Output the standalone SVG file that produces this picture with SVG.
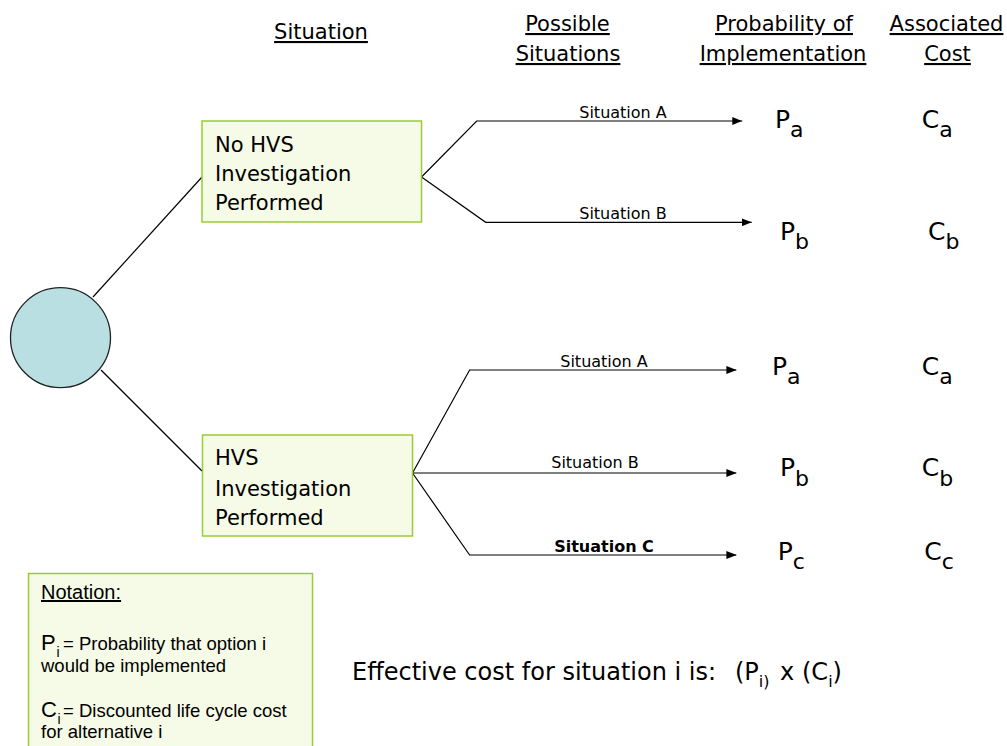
<svg xmlns="http://www.w3.org/2000/svg" width="1007" height="746" viewBox="0 0 1007 746">
<style>
.hdr{font-family:"DejaVu Sans",Verdana,sans-serif;font-size:21px;fill:#000;text-anchor:middle;text-decoration:underline}
.box{fill:#F6FBE7;stroke:#99CC33;stroke-width:1.5}
.bt{font-family:"DejaVu Sans",Verdana,sans-serif;font-size:21px;fill:#000}
.lbl{font-family:"DejaVu Sans",Verdana,sans-serif;font-size:16px;fill:#000;text-anchor:middle}
.lblb{font-family:"DejaVu Sans",Verdana,sans-serif;font-size:16px;font-weight:bold;fill:#000;text-anchor:middle}
.pc{font-family:"DejaVu Sans",Verdana,sans-serif;font-size:25px;fill:#000}
.sub{font-size:22px}
.ln{fill:none;stroke:#000;stroke-width:1.2}
.arr{fill:none;stroke:#000;stroke-width:1.2;marker-end:url(#ah)}
.nt{font-family:"Liberation Sans",Arial,sans-serif;font-size:18.5px;fill:#000}
.nth{font-family:"Liberation Sans",Arial,sans-serif;font-size:20px;fill:#000;text-decoration:underline}
.big{font-size:22px}
.nts{font-size:14px}
.eff{font-family:"DejaVu Sans",Verdana,sans-serif;font-size:24px;fill:#000}
.effs{font-size:16px}
</style>
<defs>
<marker id="ah" viewBox="0 0 10 8" refX="10" refY="4" markerWidth="10" markerHeight="8" markerUnits="userSpaceOnUse" orient="auto">
<path d="M0,0 L10,4 L0,8 Z" fill="#000"/>
</marker>
</defs>
<rect width="1007" height="746" fill="#fff"/>

<g id="headers">
<text class="hdr" x="321" y="39">Situation</text>
<text class="hdr" x="567.5" y="31">Possible</text>
<text class="hdr" x="568" y="61">Situations</text>
<text class="hdr" x="784" y="31">Probability of</text>
<text class="hdr" x="783" y="61">Implementation</text>
<text class="hdr" x="946.5" y="31">Associated</text>
<text class="hdr" x="947.5" y="61">Cost</text>
</g>

<g id="connectors">
<line class="ln" x1="93" y1="297" x2="202" y2="177"/>
<line class="ln" x1="101" y1="370" x2="202" y2="471"/>
<polyline class="arr" points="421.5,177 476.7,121 742.3,121"/>
<polyline class="arr" points="421.5,177 485.7,222.3 751.7,222.3"/>
<polyline class="arr" points="412.5,473 469.6,370 736.4,370"/>
<polyline class="arr" points="412.5,473 736.4,473"/>
<polyline class="arr" points="412.5,473 469.6,555 736.4,555"/>
<text class="lbl" x="623" y="118">Situation A</text>
<text class="lbl" x="623" y="219">Situation B</text>
<text class="lbl" x="604" y="366.5">Situation A</text>
<text class="lbl" x="595" y="467.5">Situation B</text>
<text class="lblb" x="604" y="551.5">Situation C</text>
</g>

<g id="root">
<circle cx="60.5" cy="337.7" r="50" fill="#B9DFE2" stroke="#222" stroke-width="1.3"/>
</g>

<g id="no-hvs">
<rect class="box" x="202" y="121" width="219.5" height="101"/>
<text class="bt" x="215" y="151.7">No HVS</text>
<text class="bt" x="215" y="180.7">Investigation</text>
<text class="bt" x="215" y="210">Performed</text>
</g>

<g id="hvs">
<rect class="box" x="202.5" y="435" width="210" height="101"/>
<text class="bt" x="215" y="465">HVS</text>
<text class="bt" x="215" y="495.7">Investigation</text>
<text class="bt" x="215" y="525">Performed</text>
</g>

<g id="outcomes">
<text class="pc" x="775" y="128">P<tspan class="sub" dy="9">a</tspan></text>
<text class="pc" x="921.7" y="128">C<tspan class="sub" dy="9">a</tspan></text>
<text class="pc" x="780" y="240">P<tspan class="sub" dy="8.5">b</tspan></text>
<text class="pc" x="928" y="240">C<tspan class="sub" dy="8.5">b</tspan></text>
<text class="pc" x="772" y="375">P<tspan class="sub" dy="9">a</tspan></text>
<text class="pc" x="921.7" y="375">C<tspan class="sub" dy="9">a</tspan></text>
<text class="pc" x="780" y="476">P<tspan class="sub" dy="9.5">b</tspan></text>
<text class="pc" x="921.7" y="476">C<tspan class="sub" dy="9.5">b</tspan></text>
<text class="pc" x="777.7" y="560">P<tspan class="sub" dy="9">c</tspan></text>
<text class="pc" x="924.3" y="560">C<tspan class="sub" dy="9">c</tspan></text>
</g>

<g id="notation">
<rect class="box" x="28.5" y="573.5" width="284" height="190"/>
<text class="nth" x="41" y="599">Notation:</text>
<text class="nt" x="41" y="650"><tspan class="big">P</tspan><tspan class="nts" x="56.5" dy="7">i</tspan><tspan x="63" dy="-7">= Probability that option i</tspan></text>
<text class="nt" x="41" y="671.7">would be implemented</text>
<text class="nt" x="41" y="716.7"><tspan class="big">C</tspan><tspan class="nts" x="57.5" dy="7">i</tspan><tspan x="63" dy="-7">= Discounted life cycle cost</tspan></text>
<text class="nt" x="41" y="738.3">for alternative i</text>
</g>

<g id="formula">
<text class="eff" x="352" y="680">Effective cost for situation i is:</text>
<text class="eff" x="735" y="680">(P<tspan class="effs" dy="7">i)</tspan><tspan x="780" dy="-7">x</tspan><tspan x="802">(C</tspan><tspan class="effs" dy="7">i</tspan><tspan dy="-7">)</tspan></text>
</g>
</svg>
